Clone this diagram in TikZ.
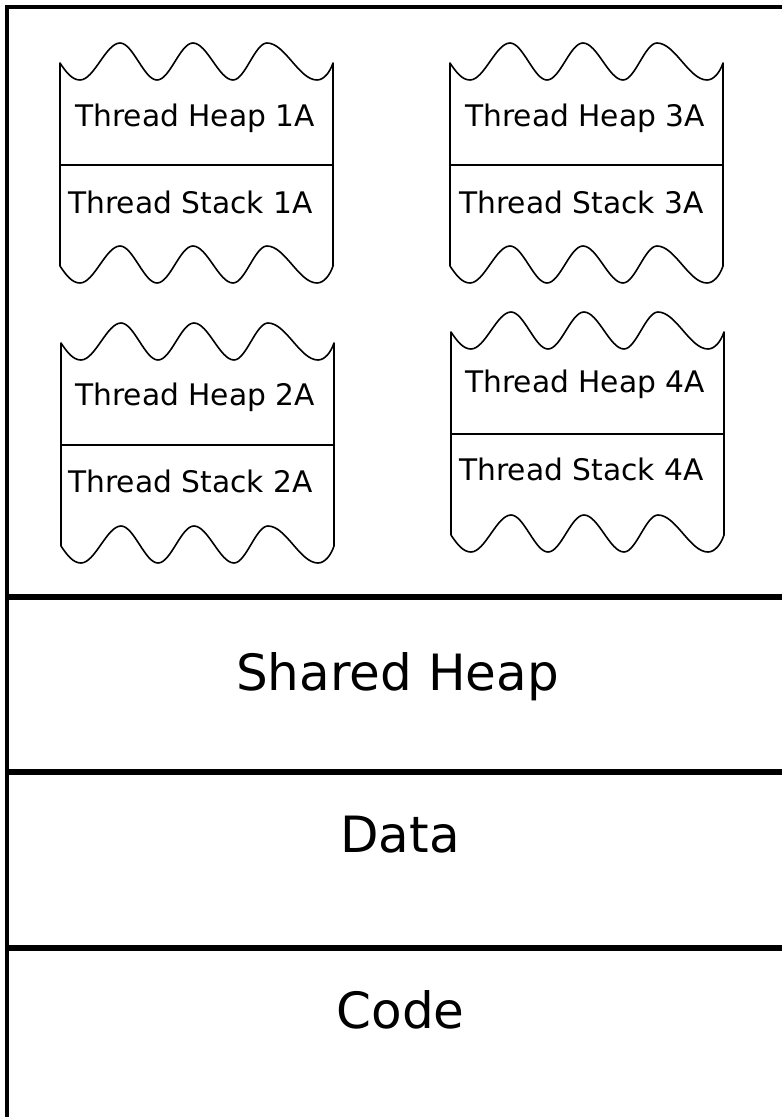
\documentclass[tikz,border=0pt]{standalone}
\usepackage{fontspec}
\setmainfont{DejaVu Sans}
\begin{document}
\begin{tikzpicture}[x=1pt,y=-1pt,
  frame/.style={line width=4pt, line join=miter},
  divider/.style={line width=6pt},
  blockline/.style={line width=1.6pt, line join=round},
  small/.style={font=\fontsize{29.7}{34}\selectfont, anchor=base, inner sep=0pt},
  big/.style={font=\fontsize{50}{60}\selectfont, anchor=base, inner sep=0pt},
  threadblock/.pic={
    % wavy-edged block: torn top, straight sides, torn bottom
    \draw[blockline] (60,63) .. controls (66,72) and (72,80) .. (80,80)
      .. controls (94,80) and (106,43) .. (120,43)
      .. controls (133,43) and (144,80) .. (157,80)
      .. controls (170,80) and (180,43) .. (193,43)
      .. controls (207,43) and (219,80) .. (233,80)
      .. controls (245,80) and (255,43) .. (267,43)
      .. controls (285,43) and (299,80) .. (317,80)
      .. controls (324,80) and (330,72) .. (333,63)
      -- (333,266)
      .. controls (330,275) and (324,283) .. (317,283)
      .. controls (299,283) and (285,246) .. (267,246)
      .. controls (255,246) and (245,283) .. (233,283)
      .. controls (219,283) and (207,246) .. (193,246)
      .. controls (180,246) and (170,283) .. (157,283)
      .. controls (144,283) and (133,246) .. (120,246)
      .. controls (106,246) and (94,283) .. (80,283)
      .. controls (72,283) and (66,275) .. (60,266)
      -- cycle;
    \draw[blockline] (60,165) -- (333,165);
  }
]
\useasboundingbox (0,0) rectangle (782,1117);

% outer frame (top and left edges)
\draw[frame] (7,1117) -- (7,7) -- (782,7);

% segment boundaries
\draw[divider] (7,596.5) -- (782,596.5);
\draw[divider] (7,771.5) -- (782,771.5);
\draw[divider] (7,947.5) -- (782,947.5);

% thread blocks
\pic at (0,0) {threadblock};
\pic at (390,0) {threadblock};
\pic at (1,280) {threadblock};
\pic at (391,269) {threadblock};

\node[small] (heap1) at (195,126) {Thread Heap 1A};
\node[small] (stack1) at (190.5,213) {Thread Stack 1A};
\node[small] (heap3) at (585,126) {Thread Heap 3A};
\node[small] (stack3) at (581.5,213) {Thread Stack 3A};
\node[small] (heap2) at (195,405) {Thread Heap 2A};
\node[small] (stack2) at (190.5,492) {Thread Stack 2A};
\node[small] (heap4) at (585,392) {Thread Heap 4A};
\node[small] (stack4) at (581.5,480) {Thread Stack 4A};

% shared segments
\node[big] (shared) at (397.5,690) {Shared Heap};
\node[big] (data) at (400,852) {Data};
\node[big] (code) at (400.5,1028) {Code};
\end{tikzpicture}
\end{document}
